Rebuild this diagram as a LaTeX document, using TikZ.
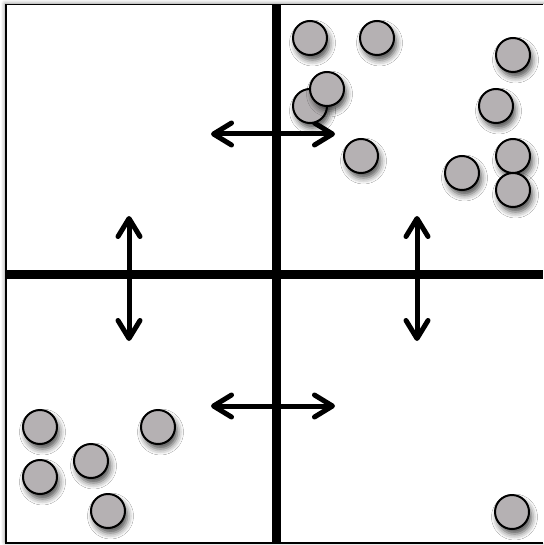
\documentclass[tikz,border=0pt]{standalone}
\usetikzlibrary{arrows.meta,shadows.blur}
\definecolor{dotgray}{RGB}{181,177,179}
\tikzset{
  dot/.style={circle, draw=black, line width=2pt, fill=dotgray, minimum size=34pt, inner sep=0pt,
    blur shadow={shadow xshift=2.5pt, shadow yshift=-5pt, shadow blur radius=6pt, shadow opacity=70}},
  divider/.style={line width=9pt},
  sheet/.style={fill=white,
    blur shadow={shadow xshift=-1pt, shadow yshift=1pt, shadow blur radius=4pt, shadow opacity=45, shadow scale=1}},
  edge/.style={draw=black, line width=1.6pt},
  barb/.tip={Straight Barb[length=18pt, width=22pt, line cap=round, line join=round]},
  swap/.style={line width=5pt, line cap=round, line join=round, {barb}-{barb}}
}
\begin{document}
\begin{tikzpicture}[x=1pt, y=-1pt]
  \useasboundingbox (0,0) rectangle (543,545);
  % outer frame, open on the right
  \path[sheet] (6,4.5) rectangle (560,543);
  \draw[edge] (543,4.5) -- (6,4.5) -- (6,543) -- (543,543);
  % quadrant dividers
  \coordinate (vt) at (276.5,4);
  \coordinate (vb) at (276.5,543);
  \coordinate (hl) at (6,274.5);
  \coordinate (hr) at (543,274.5);
  \draw[divider] (vt) -- (vb);
  \draw[divider] (hl) -- (hr);
  % exchange arrows between neighbouring cells
  \coordinate (a1) at (211,134);
  \coordinate (a2) at (335,134);
  \coordinate (b1) at (211,406);
  \coordinate (b2) at (335,406);
  \coordinate (c1) at (129,216);
  \coordinate (c2) at (129,341);
  \coordinate (d1) at (417,216);
  \coordinate (d2) at (417,341);
  \draw[swap] (a1) -- (a2);
  \draw[swap] (b1) -- (b2);
  \draw[swap] (c1) -- (c2);
  \draw[swap] (d1) -- (d2);
  % particles, upper right cell
  \node[dot] (p1) at (310,38) {};
  \node[dot] (p2) at (377,38) {};
  \node[dot] (p3) at (513,55) {};
  \node[dot] (p4) at (310,106) {};
  \node[dot] (p5) at (327,89) {};
  \node[dot] (p6) at (496,106) {};
  \node[dot] (p7) at (361,156) {};
  \node[dot] (p8) at (462,173) {};
  \node[dot] (p9) at (513,156) {};
  \node[dot] (p10) at (513,190) {};
  % particles, lower left cell
  \node[dot] (q1) at (40,427) {};
  \node[dot] (q2) at (158,427) {};
  \node[dot] (q3) at (91,461) {};
  \node[dot] (q4) at (40,477) {};
  \node[dot] (q5) at (108,511) {};
  % particle, lower right cell
  \node[dot] (r1) at (512,512) {};
\end{tikzpicture}
\end{document}
